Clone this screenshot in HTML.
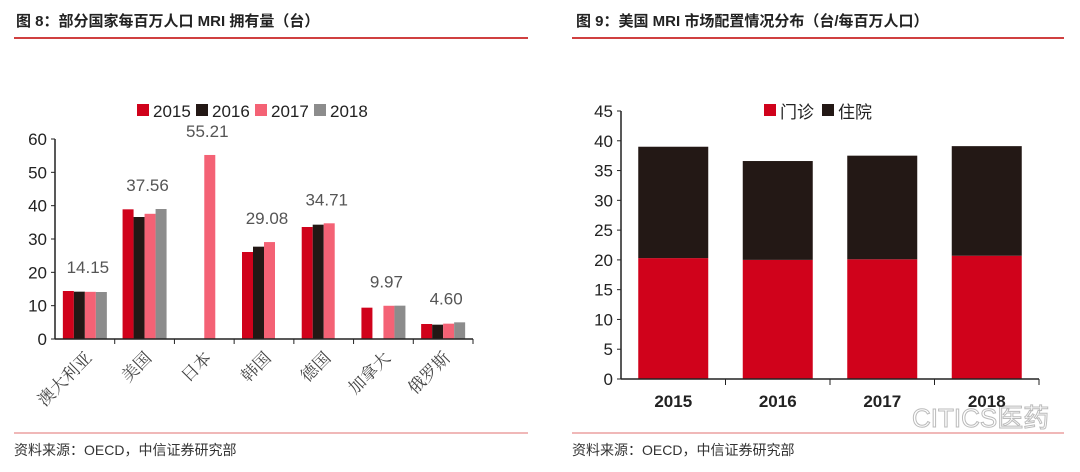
<!DOCTYPE html>
<html><head><meta charset="utf-8"><style>
body{margin:0;background:#fff;width:1080px;height:467px;overflow:hidden;font-family:"Liberation Sans","Noto Sans CJK SC",sans-serif}
</style></head><body>
<svg width="1080" height="467" xmlns="http://www.w3.org/2000/svg" font-family="Liberation Sans, Noto Sans CJK SC, sans-serif">
<text x="16" y="26" font-size="15" font-weight="bold" fill="#222">图 8：部分国家每百万人口 MRI 拥有量（台）</text>
<line x1="14" y1="38" x2="528" y2="38" stroke="#c00000" stroke-width="1.5"/>
<text x="576" y="26" font-size="15" font-weight="bold" fill="#222">图 9：美国 MRI 市场配置情况分布（台/每百万人口）</text>
<line x1="572" y1="38" x2="1064" y2="38" stroke="#c00000" stroke-width="1.5"/>
<line x1="14" y1="433" x2="528" y2="433" stroke="#e07070" stroke-width="1"/>
<text x="14" y="455" font-size="14" fill="#333">资料来源：OECD，中信证券研究部</text>
<line x1="572" y1="433" x2="1064" y2="433" stroke="#e07070" stroke-width="1"/>
<text x="572" y="455" font-size="14" fill="#333">资料来源：OECD，中信证券研究部</text>
<text x="912" y="427" font-size="26" fill="none" stroke="#bbb" stroke-width="1">CITICS医药</text>
<g id="left"></g>
<g id="right"></g>
</svg>
<script>
const countries=["澳大利亚","美国","日本","韩国","德国","加拿大","俄罗斯"];
const years=["2015","2016","2017","2018"];
const v2015=[14.4,38.9,null,26.1,33.6,9.4,4.5];
const v2016=[14.2,36.6,null,27.7,34.3,null,4.3];
const v2017=[14.15,37.56,55.21,29.08,34.71,9.97,4.60];
const v2018=[14.1,39.0,null,null,null,10.0,5.0];
const leftTicks=[0,10,20,30,40,50,60];
const yrs=["2015","2016","2017","2018"];
const outpatient=[20.3,20.0,20.1,20.7];
const inpatient=[18.7,16.6,17.4,18.4];
const rightTicks=[0,5,10,15,20,25,30,35,40,45];
const NS="http://www.w3.org/2000/svg";
function mk(p,t,a){const e=document.createElementNS(NS,t);for(const k in a)e.setAttribute(k,a[k]);p.appendChild(e);return e;}
const L=document.getElementById('left');
const lx0=55,lx1=473,ly0=339,ly1=139;
const ly=v=>ly0-(v/60)*(ly0-ly1);
const cw=(lx1-lx0)/countries.length;
const series=[v2015,v2016,v2017,v2018];
const colors=["#d0021b","#231815","#f46275","#8c8c8c"];
leftTicks.forEach(t=>{
 let tl=mk(L,'line',{x1:lx0-4,x2:lx0,y1:ly(t),y2:ly(t),stroke:'#222'});
 
 let tx=mk(L,'text',{x:lx0-8,y:ly(t)+6,'text-anchor':'end','font-size':17,fill:'#222'});tx.textContent=t;
 
});
let ax=mk(L,'line',{x1:lx0,x2:lx0,y1:ly1,y2:ly0,stroke:'#222','stroke-width':1.5});

countries.forEach((c,i)=>{
 const gx=lx0+i*cw, cx=gx+cw/2, bw=11;
 series.forEach((s,j)=>{
  if(s[i]==null)return;
  let r=mk(L,'rect',{x:cx-2*bw+j*bw,y:ly(s[i]),width:bw,height:ly0-ly(s[i]),fill:colors[j]});
  
 });
 const mx=Math.max(...series.map(s=>s[i]==null?0:s[i]));
 let lb=mk(L,'text',{x:cx+3,y:ly(mx)-18,'text-anchor':'middle','font-size':17,fill:'#555'});
 lb.textContent=v2017[i].toFixed(2);
 
 let tk=mk(L,'line',{x1:gx+cw,x2:gx+cw,y1:ly0,y2:ly0+5,stroke:'#222'});
 
 let ct=mk(L,'text',{x:0,y:0,'text-anchor':'end','font-size':17,fill:'#444','font-family':'Noto Serif CJK SC, serif',transform:`translate(${cx+8},${ly0+20}) rotate(-45)`});
 ct.textContent=c;
 
});
let xa=mk(L,'line',{x1:lx0,x2:lx1,y1:ly0,y2:ly0,stroke:'#222','stroke-width':1.5});

let lgx=137;
years.forEach((y,j)=>{
 let r=mk(L,'rect',{x:lgx,y:104,width:12,height:12,fill:colors[j]});
 
 let t=mk(L,'text',{x:lgx+16,y:117,'font-size':17,fill:'#222'});t.textContent=y;
 
 lgx+=59;
});
const R=document.getElementById('right');
const rx0=621,rx1=1039,ry0=379,ry1=111;
const ry=v=>ry0-(v/45)*(ry0-ry1);
const rcw=(rx1-rx0)/yrs.length;
rightTicks.forEach(t=>{
 let tl=mk(R,'line',{x1:rx0-4,x2:rx0,y1:ry(t),y2:ry(t),stroke:'#222'});
 
 let tx=mk(R,'text',{x:rx0-8,y:ry(t)+6,'text-anchor':'end','font-size':17,fill:'#222'});tx.textContent=t;
 
});
let rax=mk(R,'line',{x1:rx0,x2:rx0,y1:ry1,y2:ry0,stroke:'#222','stroke-width':1.5});

yrs.forEach((y,i)=>{
 const cx=rx0+i*rcw+rcw/2,bw=70;
 let a=mk(R,'rect',{x:cx-bw/2,y:ry(outpatient[i]),width:bw,height:ry0-ry(outpatient[i]),fill:'#d0021b'});
 
 const tot=outpatient[i]+inpatient[i];
 let b=mk(R,'rect',{x:cx-bw/2,y:ry(tot),width:bw,height:ry(outpatient[i])-ry(tot),fill:'#231815'});
 
 let tk=mk(R,'line',{x1:rx0+(i+1)*rcw,x2:rx0+(i+1)*rcw,y1:ry0,y2:ry0+6,stroke:'#222'});
 
 let t=mk(R,'text',{x:cx,y:ry0+28,'text-anchor':'middle','font-size':17,'font-weight':'bold',fill:'#222'});t.textContent=y;
 
});
let rxa=mk(R,'line',{x1:rx0,x2:rx1,y1:ry0,y2:ry0,stroke:'#222','stroke-width':1.5});

[["门诊","#d0021b",764],["住院","#231815",822]].forEach(([n,c,x])=>{
 let r=mk(R,'rect',{x:x,y:104,width:12,height:12,fill:c});
 
 let t=mk(R,'text',{x:x+16,y:118,'font-size':17,fill:'#222'});t.textContent=n;
 
});
</script>
</body></html>
